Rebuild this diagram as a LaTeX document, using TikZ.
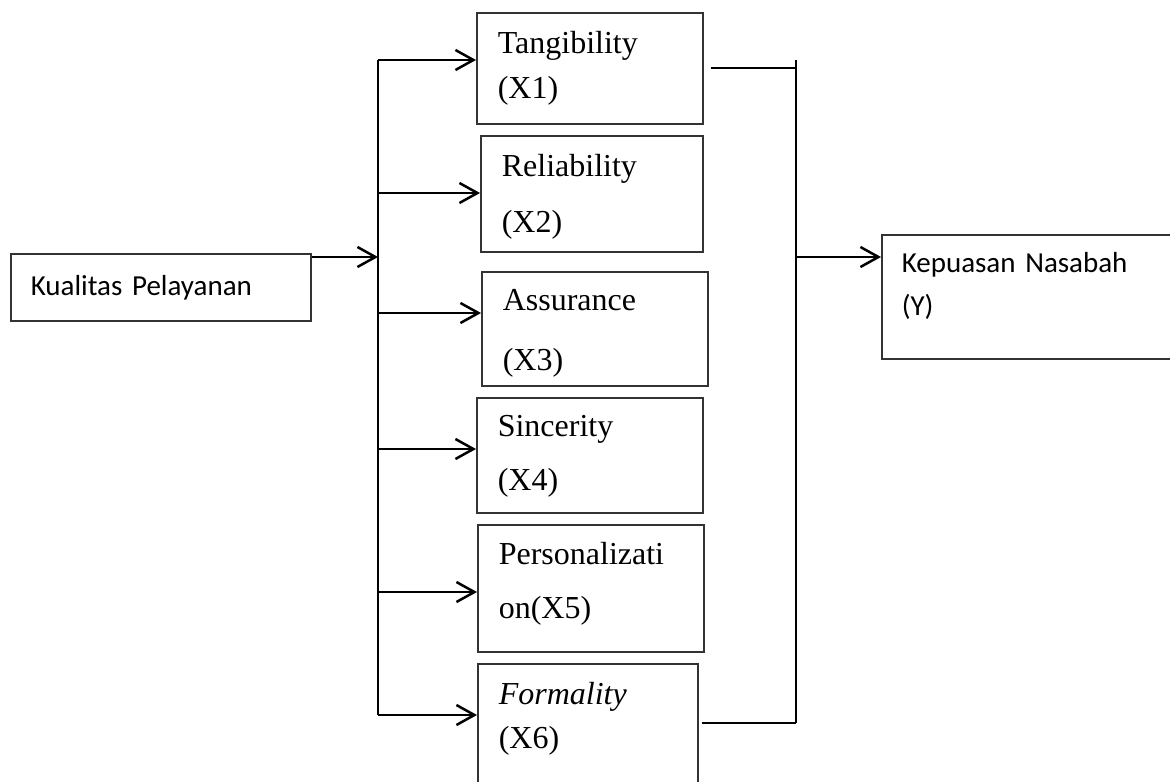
\documentclass[tikz,border=0pt]{standalone}
\usepackage{fontspec}
\usetikzlibrary{arrows.meta}
\newfontfamily\timesfont{Liberation Serif}
\newfontfamily\calibrifont{Carlito}

\begin{document}
\begin{tikzpicture}[x=0.5pt, y=-0.5pt,
   varbox/.style={draw=black!80, line width=0.8pt, anchor=north west, align=left,
      inner xsep=10.5pt, font=\timesfont\fontsize{16pt}{22.5pt}\selectfont},
   sansbox/.style={varbox, inner xsep=10pt, font=\calibrifont\fontsize{14.5pt}{21.5pt}\selectfont},
   arr/.style={-{Straight Barb[length=9pt,width=10pt]}, line width=1.25pt},
   link/.style={line width=1.1pt}]
   \useasboundingbox (0,0) rectangle (1170,781);
   % boxes
   \node[sansbox, text width=130pt, minimum height=33.5pt] (kual) at (10,253) {Kualitas Pelayanan};
   \node[varbox, text width=92pt, minimum height=55.5pt, text depth=26.4pt] (tang) at (476,12) {Tangibility\\(X1)};
   \node[varbox, text width=90pt, minimum height=58pt, text depth=28.9pt] (reli) at (480,135) {Reliability\\[5.5pt](X2)};
   \node[varbox, text width=92pt, minimum height=57pt, text depth=28.7pt] (assu) at (481,271) {Assurance\\[7.5pt](X3)};
   \node[varbox, text width=92pt, minimum height=57.5pt, text depth=29.3pt] (sinc) at (476,397) {Sincerity\\[4.5pt](X4)};
   \node[varbox, text width=92pt, minimum height=63.5pt, text depth=35.4pt] (pers) at (477,524) {Personalizati\\[4.5pt]on(X5)};
   \node[varbox, text width=89pt, minimum height=68.5pt, text depth=39.4pt] (form) at (477,663) {\textit{Formality}\\[-0.5pt](X6)};
   \node[sansbox, text width=140pt, minimum height=62pt, text depth=34.2pt] (kepu) at (881,234) {Kepuasan Nasabah\\(Y)};
   % left bus
   \coordinate (kin) at (378,257);
   \coordinate (b1) at (378,60);
   \coordinate (b2) at (378,193);
   \coordinate (b3) at (378,313);
   \coordinate (b4) at (378,449);
   \coordinate (b5) at (378,592);
   \coordinate (b6) at (378,715);
   \draw[arr] (kual.east |- kin) -- (kin);
   \draw[link] (b1) -- (b6);
   \draw[arr] (b1) -- (b1 -| tang.west);
   \draw[arr] (b2) -- (b2 -| reli.west);
   \draw[arr] (b3) -- (b3 -| assu.west);
   \draw[arr] (b4) -- (b4 -| sinc.west);
   \draw[arr] (b5) -- (b5 -| pers.west);
   \draw[arr] (b6) -- (b6 -| form.west);
   % right bus
   \coordinate (r0) at (796,60);
   \coordinate (r1) at (796,68);
   \coordinate (r6) at (796,723);
   \coordinate (ry) at (796,257);
   \draw[link] (r0) -- (r6);
   \draw[link] ([xshift=3.5pt]tang.east |- r1) -- (r1);
   \draw[link] ([xshift=1.5pt]form.east |- r6) -- (r6);
   \draw[arr] (ry) -- (ry -| kepu.west);
\end{tikzpicture}
\end{document}
